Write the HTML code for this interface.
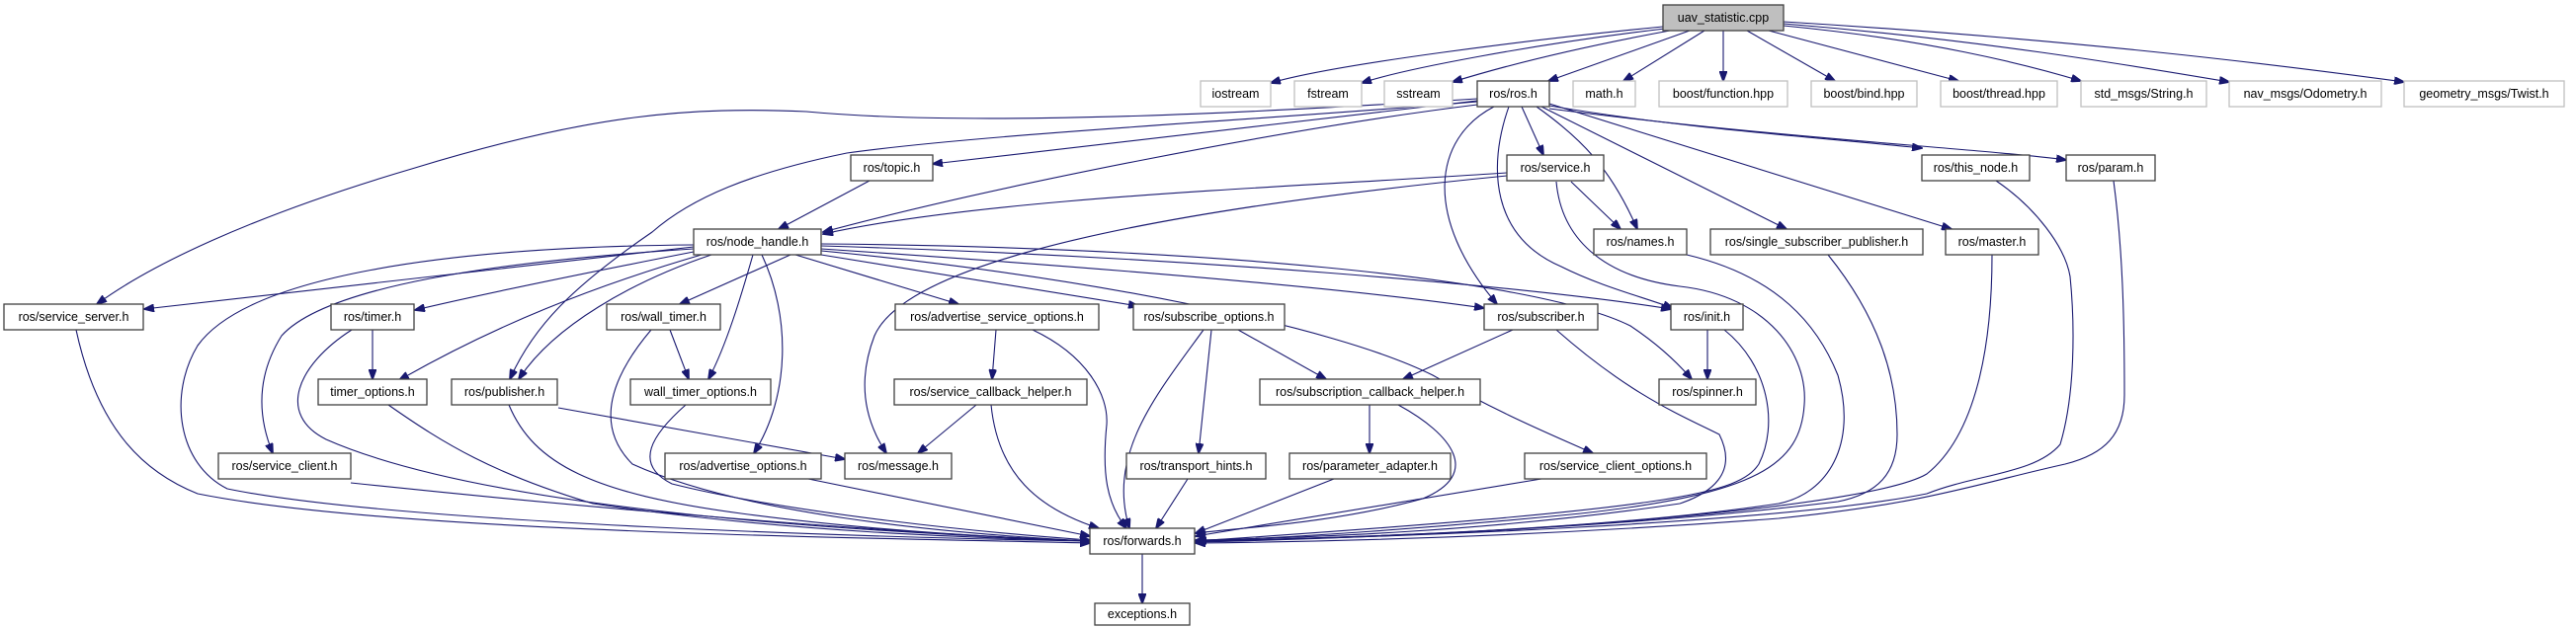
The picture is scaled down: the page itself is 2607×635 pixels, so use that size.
<!DOCTYPE html>
<html><head><meta charset="utf-8"><style>
html,body{margin:0;padding:0;background:#fff;}
svg{display:block;}
text{font-family:"Liberation Sans",sans-serif;font-size:12.5px;fill:#000;text-anchor:middle;}
.e{fill:none;stroke:#191970;stroke-width:1.1;marker-end:url(#a);}
.n{fill:#fff;stroke:#404040;stroke-width:1.3;}
.g{fill:#fff;stroke:#bfbfbf;stroke-width:1.3;}
</style></head><body>
<svg width="2607" height="635" viewBox="0 0 2607 635" xmlns="http://www.w3.org/2000/svg">
<defs><marker id="a" markerWidth="11" markerHeight="8" refX="10" refY="4" orient="auto" markerUnits="userSpaceOnUse"><path d="M0,0 L11,4 L0,8 z" fill="#191970" stroke="#191970"/></marker></defs>
<!-- edges from uav -->
<path class="e" d="M1683,27 C1550,40 1350,65 1286,84"/>
<path class="e" d="M1685,29 C1550,45 1420,70 1378,84"/>
<path class="e" d="M1690,31 Q1560,55 1470,83"/>
<path class="e" d="M1710,31 L1567,82"/>
<path class="e" d="M1725,31 L1643,82"/>
<path class="e" d="M1744,31 L1744,82"/>
<path class="e" d="M1768,31 L1857,82"/>
<path class="e" d="M1790,31 L1982,82"/>
<path class="e" d="M1805,26 C1950,40 2050,65 2106,82"/>
<path class="e" d="M1805,24 C2000,40 2150,65 2256,83"/>
<path class="e" d="M1805,22 C2100,40 2300,65 2433,83"/>
<!-- ros.h -->
<path class="e" d="M1495,100 C1300,112 1000,130 816,113 C700,108 600,115 420,170 C250,220 150,270 98,308"/>
<path class="e" d="M1495,103 C1300,120 1000,135 857,155 C760,175 700,200 660,235 C580,290 540,330 516,384"/>
<path class="e" d="M1495,102 L944,166"/>
<path class="e" d="M1495,106 C1300,130 1000,190 833,235"/>
<path class="e" d="M1525,175 C1300,190 1000,200 833,237"/>
<path class="e" d="M1525,178 C1200,210 920,260 885,340 C862,400 885,440 897,459"/>
<path class="e" d="M1590,184 L1640,232"/>
<path class="e" d="M1575,184 C1580,240 1620,280 1700,290 C1790,300 1830,360 1826,410 C1822,470 1780,500 1600,520 C1450,535 1300,545 1211,548"/>
<path class="e" d="M1555,108 C1600,140 1630,170 1657,232"/>
<path class="e" d="M1540,108 L1562,157"/>
<path class="e" d="M1512,108 C1450,140 1440,220 1515,308"/>
<path class="e" d="M1527,108 C1505,170 1510,240 1580,270 C1620,290 1660,300 1693,312"/>
<path class="e" d="M1560,108 L1808,232"/>
<path class="e" d="M1568,105 L1975,232"/>
<path class="e" d="M1568,107 C1700,130 1850,140 1945,150"/>
<path class="e" d="M1568,110 C1800,140 2000,150 2091,162"/>
<!-- topic -->
<path class="e" d="M880,183 L788,232"/>
<!-- node_handle -->
<path class="e" d="M702,250 L146,313"/>
<path class="e" d="M702,255 C600,275 500,295 420,314"/>
<path class="e" d="M710,258 C600,290 500,330 404,385"/>
<path class="e" d="M720,258 C640,285 560,330 525,384"/>
<path class="e" d="M702,252 C500,265 330,290 285,340 C260,380 260,420 276,459"/>
<path class="e" d="M702,248 C450,250 250,280 200,350 C170,400 180,470 230,495 C400,530 900,545 1103,548"/>
<path class="e" d="M800,258 L688,308"/>
<path class="e" d="M762,258 C750,300 735,350 717,384"/>
<path class="e" d="M771,258 C800,320 800,400 763,459"/>
<path class="e" d="M805,258 L970,308"/>
<path class="e" d="M831,258 L1152,310"/>
<path class="e" d="M831,252 C1100,270 1350,290 1502,312"/>
<path class="e" d="M831,249 C1200,260 1550,290 1691,313"/>
<path class="e" d="M831,247 C1200,250 1550,280 1650,330 C1680,350 1700,370 1712,384"/>
<path class="e" d="M831,254 C1100,280 1350,330 1450,380 C1520,420 1570,440 1612,459"/>
<!-- timers -->
<path class="e" d="M377,334 L377,384"/>
<path class="e" d="M356,334 C300,370 280,420 330,445 C500,520 900,540 1103,548"/>
<path class="e" d="M678,334 L697,384"/>
<path class="e" d="M659,334 C620,380 600,430 640,470 C750,520 950,540 1103,548"/>
<path class="e" d="M393,410 C450,450 500,480 600,510 C800,540 1000,545 1103,548"/>
<path class="e" d="M694,410 C660,440 640,470 680,490 C800,520 1000,540 1103,547"/>
<path class="e" d="M565,413 L855,465"/>
<path class="e" d="M515,410 C540,470 600,500 750,520 C900,540 1050,546 1103,548"/>
<path class="e" d="M355,489 C600,515 900,540 1103,548"/>
<path class="e" d="M77,334 C100,440 150,480 200,500 C400,540 900,545 1103,550"/>
<path class="e" d="M818,485 L1103,543"/>
<path class="e" d="M1008,334 L1004,384"/>
<path class="e" d="M1045,334 C1100,360 1122,400 1120,430 C1115,480 1120,510 1140,535"/>
<path class="e" d="M988,410 L929,459"/>
<path class="e" d="M1003,410 C1010,480 1050,515 1112,535"/>
<path class="e" d="M1218,334 C1170,400 1120,460 1143,535"/>
<path class="e" d="M1226,334 L1213,459"/>
<path class="e" d="M1253,334 L1342,384"/>
<path class="e" d="M1202,485 L1170,535"/>
<path class="e" d="M1386,410 L1386,459"/>
<path class="e" d="M1415,410 C1470,440 1500,480 1440,505 C1350,530 1250,535 1210,540"/>
<path class="e" d="M1531,334 L1420,384"/>
<path class="e" d="M1575,334 C1650,400 1700,420 1740,440 C1760,480 1730,500 1700,510 C1500,540 1300,545 1210,547"/>
<path class="e" d="M1350,485 L1210,540"/>
<path class="e" d="M1560,485 L1210,543"/>
<path class="e" d="M1728,334 L1728,384"/>
<path class="e" d="M1745,334 C1790,370 1800,430 1780,470 C1760,500 1700,515 1210,548"/>
<path class="e" d="M1707,258 C1800,280 1840,330 1860,380 C1880,450 1850,500 1800,510 C1600,540 1300,546 1210,548"/>
<path class="e" d="M1850,258 C1900,320 1920,380 1920,440 C1920,480 1900,500 1860,508 C1600,540 1300,546 1210,548"/>
<path class="e" d="M2016,258 C2016,350 2000,440 1950,480 C1900,510 1600,540 1210,549"/>
<path class="e" d="M2020,183 C2060,210 2090,250 2095,280 C2100,330 2100,400 2085,450 C2060,480 2000,480 1950,500 C1800,530 1400,545 1210,548"/>
<path class="e" d="M2139,183 C2148,250 2150,320 2150,400 C2150,440 2130,460 2090,470 C2000,490 1950,510 1800,525 C1600,540 1400,548 1210,550"/>
<path class="e" d="M1156,561 L1156,611"/>
<!-- nodes -->
<rect x="1683" y="5" width="122" height="26" fill="#bfbfbf" stroke="#404040" stroke-width="1.3"/><text x="1744" y="22">uav_statistic.cpp</text>
<rect class="g" x="1215" y="82" width="71" height="26"/><text x="1250.5" y="99">iostream</text>
<rect class="g" x="1310" y="82" width="68" height="26"/><text x="1344" y="99">fstream</text>
<rect class="g" x="1401" y="82" width="69" height="26"/><text x="1435.5" y="99">sstream</text>
<rect class="n" x="1495" y="82" width="73" height="26" stroke="#000"/><text x="1531.5" y="99">ros/ros.h</text>
<rect class="g" x="1592" y="82" width="63" height="26"/><text x="1623.5" y="99">math.h</text>
<rect class="g" x="1679" y="82" width="130" height="26"/><text x="1744" y="99">boost/function.hpp</text>
<rect class="g" x="1833" y="82" width="107" height="26"/><text x="1886.5" y="99">boost/bind.hpp</text>
<rect class="g" x="1964" y="82" width="118" height="26"/><text x="2023" y="99">boost/thread.hpp</text>
<rect class="g" x="2106" y="82" width="127" height="26"/><text x="2169.5" y="99">std_msgs/String.h</text>
<rect class="g" x="2256" y="82" width="154" height="26"/><text x="2333" y="99">nav_msgs/Odometry.h</text>
<rect class="g" x="2433" y="82" width="162" height="26"/><text x="2514" y="99">geometry_msgs/Twist.h</text>
<rect class="n" x="861" y="157" width="83" height="26"/><text x="902.5" y="174">ros/topic.h</text>
<rect class="n" x="1525" y="157" width="98" height="26"/><text x="1574" y="174">ros/service.h</text>
<rect class="n" x="1945" y="157" width="109" height="26"/><text x="1999.5" y="174">ros/this_node.h</text>
<rect class="n" x="2091" y="157" width="90" height="26"/><text x="2136" y="174">ros/param.h</text>
<rect class="n" x="702" y="232" width="129" height="26"/><text x="766.5" y="249">ros/node_handle.h</text>
<rect class="n" x="1613" y="232" width="94" height="26"/><text x="1660" y="249">ros/names.h</text>
<rect class="n" x="1731" y="232" width="215" height="26"/><text x="1838.5" y="249">ros/single_subscriber_publisher.h</text>
<rect class="n" x="1969" y="232" width="94" height="26"/><text x="2016" y="249">ros/master.h</text>
<rect class="n" x="4" y="308" width="141" height="26"/><text x="74.5" y="325">ros/service_server.h</text>
<rect class="n" x="335" y="308" width="84" height="26"/><text x="377" y="325">ros/timer.h</text>
<rect class="n" x="614" y="308" width="115" height="26"/><text x="671.5" y="325">ros/wall_timer.h</text>
<rect class="n" x="906" y="308" width="206" height="26"/><text x="1009" y="325">ros/advertise_service_options.h</text>
<rect class="n" x="1147" y="308" width="153" height="26"/><text x="1223.5" y="325">ros/subscribe_options.h</text>
<rect class="n" x="1502" y="308" width="115" height="26"/><text x="1559.5" y="325">ros/subscriber.h</text>
<rect class="n" x="1691" y="308" width="73" height="26"/><text x="1727.5" y="325">ros/init.h</text>
<rect class="n" x="322" y="384" width="110" height="26"/><text x="377" y="401">timer_options.h</text>
<rect class="n" x="457" y="384" width="107" height="26"/><text x="510.5" y="401">ros/publisher.h</text>
<rect class="n" x="638" y="384" width="142" height="26"/><text x="709" y="401">wall_timer_options.h</text>
<rect class="n" x="905" y="384" width="195" height="26"/><text x="1002.5" y="401">ros/service_callback_helper.h</text>
<rect class="n" x="1275" y="384" width="223" height="26"/><text x="1386.5" y="401">ros/subscription_callback_helper.h</text>
<rect class="n" x="1679" y="384" width="98" height="26"/><text x="1728" y="401">ros/spinner.h</text>
<rect class="n" x="221" y="459" width="134" height="26"/><text x="288" y="476">ros/service_client.h</text>
<rect class="n" x="673" y="459" width="158" height="26"/><text x="752" y="476">ros/advertise_options.h</text>
<rect class="n" x="855" y="459" width="108" height="26"/><text x="909" y="476">ros/message.h</text>
<rect class="n" x="1140" y="459" width="141" height="26"/><text x="1210.5" y="476">ros/transport_hints.h</text>
<rect class="n" x="1305" y="459" width="163" height="26"/><text x="1386.5" y="476">ros/parameter_adapter.h</text>
<rect class="n" x="1543" y="459" width="184" height="26"/><text x="1635" y="476">ros/service_client_options.h</text>
<rect class="n" x="1103" y="535" width="106" height="26"/><text x="1156" y="552">ros/forwards.h</text>
<rect class="n" x="1108" y="611" width="96" height="22"/><text x="1156" y="626">exceptions.h</text>
</svg>
</body></html>
